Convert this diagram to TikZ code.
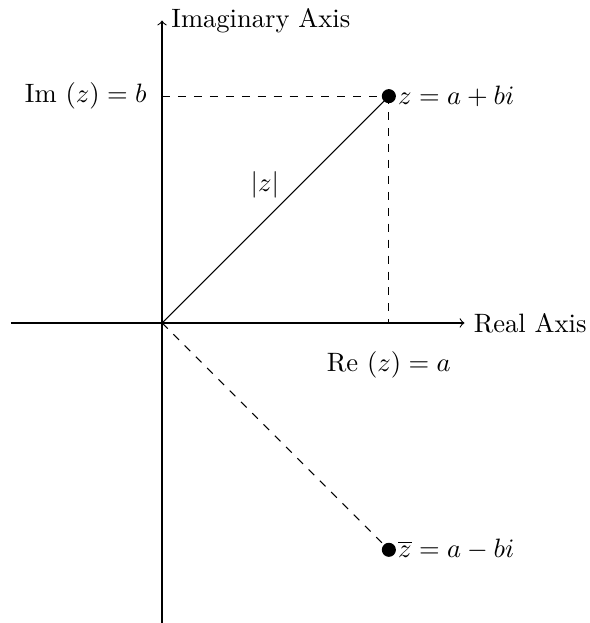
\documentclass[tikz,border=0pt]{standalone}
\usetikzlibrary{arrows}
\begin{document}
\begin{tikzpicture}[
  dot/.style={circle,fill=black,inner sep=0pt,minimum size=5.3pt},
  axis/.style={->},
  guide/.style={dashed}
]
\useasboundingbox (-2.143,-3.968) rectangle (5.648,4.272);
\coordinate (O) at (0,0);
\coordinate (Z) at (3,3);
\coordinate (Zb) at (3,-3);
\coordinate (X0) at (-2,0);
\coordinate (X1) at (4,0);
\coordinate (Y0) at (0,-4);
\coordinate (Y1) at (0,4);
\coordinate (ZY) at (0,3);
\coordinate (ZX) at (3,0);
\draw[axis] (X0) -- (X1) node[right] (rl) {Real Axis};
\draw[axis] (Y0) -- (Y1) node[right] (il) {Imaginary Axis};
\draw[guide] (ZY) -- (Z);
\draw[guide] (Z) -- (ZX);
\draw (O) -- (Z);
\draw[guide] (O) -- (Zb);
\node[dot] (zd) at (Z) {};
\node[dot] (zbd) at (Zb) {};
\node[right] (zl) at (Z) {$z=a+bi$};
\node[right] (zbl) at (Zb) {$\overline{z}=a-bi$};
\node[left] (iml) at (-0.08,3) {Im $(z)=b$};
\node[below] (rel) at (3,-0.26) {Re $(z)=a$};
\node (abs) at (1.36,1.83) {$|z|$};
\end{tikzpicture}
\end{document}
